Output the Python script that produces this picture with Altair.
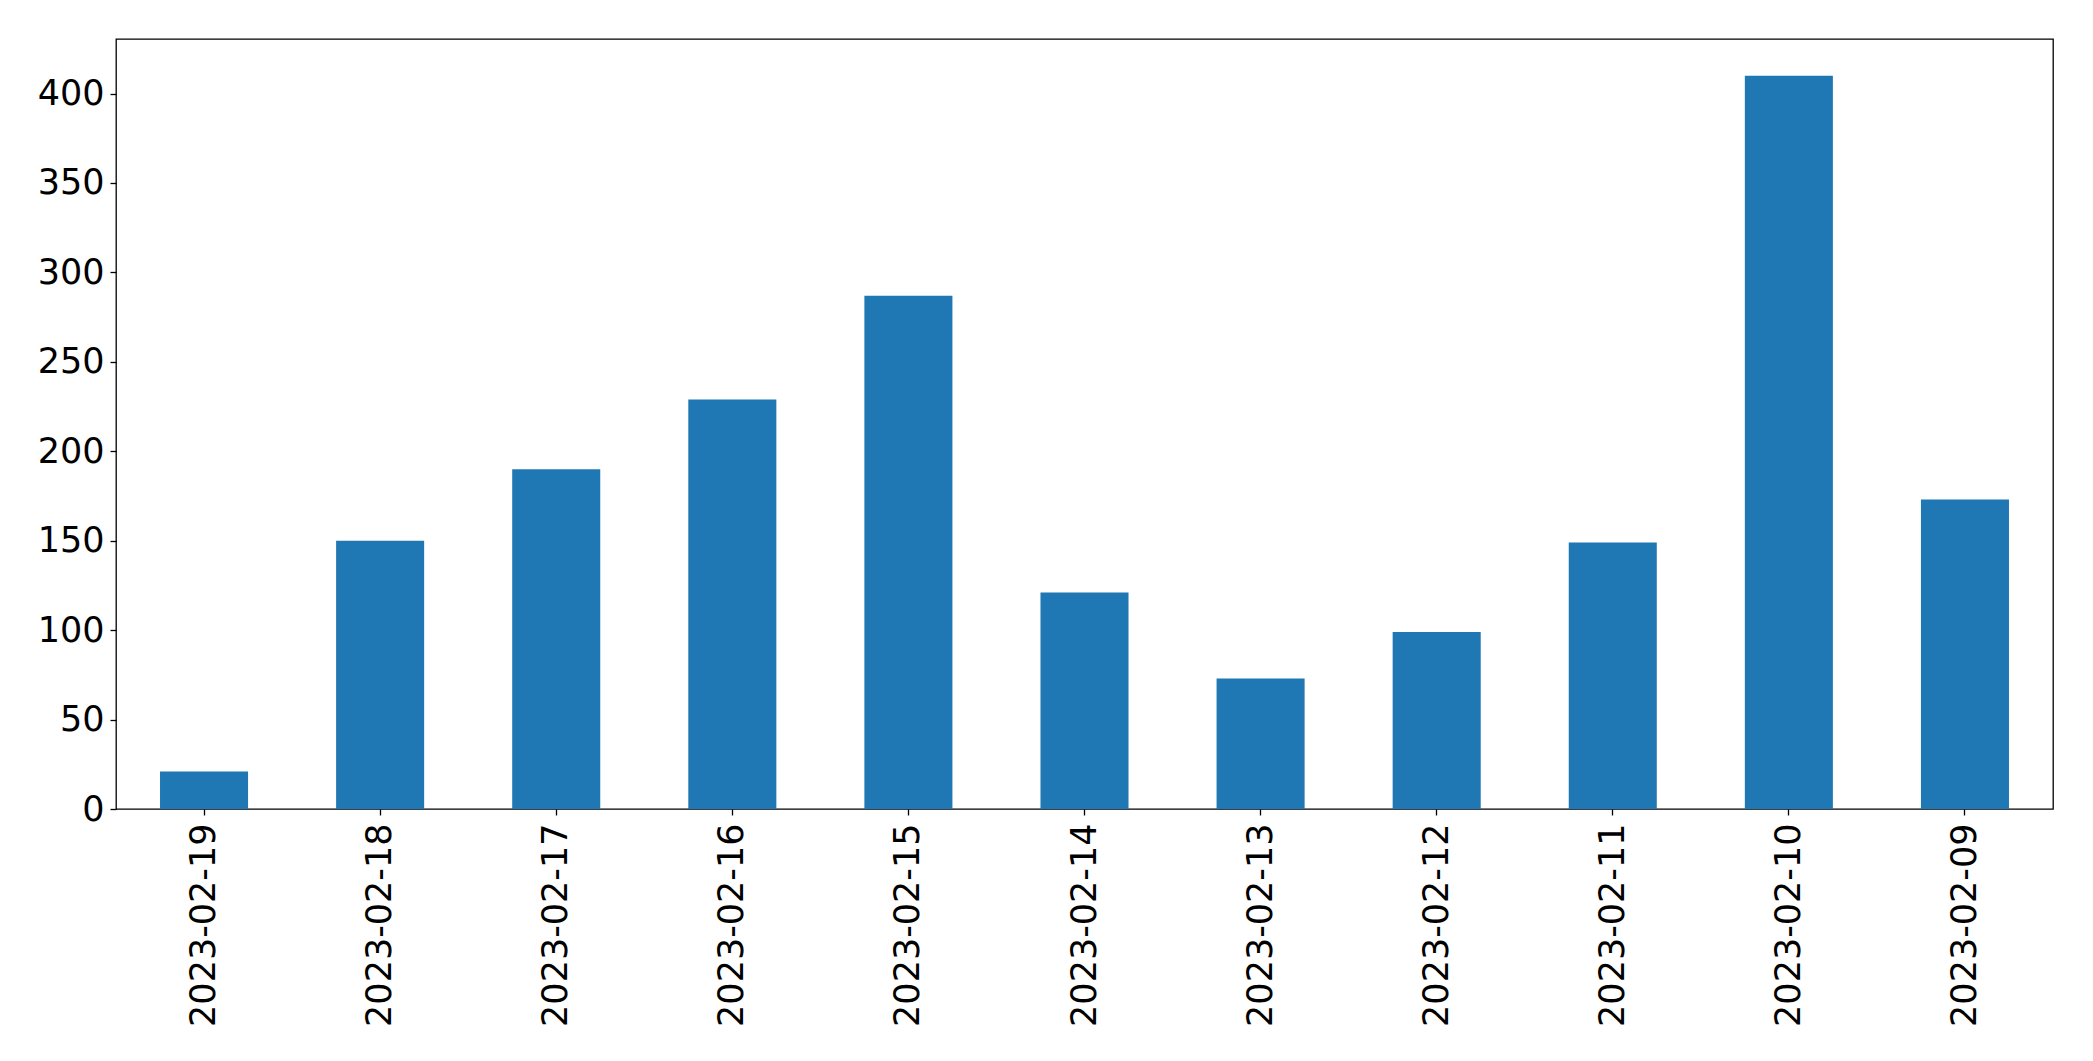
import altair as alt
import pandas as pd

dates = ["2023-02-19", "2023-02-18", "2023-02-17", "2023-02-16", "2023-02-15",
         "2023-02-14", "2023-02-13", "2023-02-12", "2023-02-11", "2023-02-10",
         "2023-02-09"]
counts = [21, 150, 190, 229, 287, 121, 73, 99, 149, 410, 173]
y_ticks = [0, 50, 100, 150, 200, 250, 300, 350, 400]

df = pd.DataFrame({"date": dates, "count": counts})

chart = alt.Chart(df).mark_bar(color="#1f77b4").encode(
    x=alt.X("date:N", sort=dates, title=None,
            scale=alt.Scale(paddingInner=0.5, paddingOuter=0.25),
            axis=alt.Axis(labelAngle=-90, labelFontSize=35, labelFont="DejaVu Sans",
                          labelColor="black", tickColor="black", tickSize=6,
                          tickWidth=1.3, labelPadding=8, labelLimit=0,
                          domain=False, grid=False)),
    y=alt.Y("count:Q", title=None,
            scale=alt.Scale(domain=[0, 430.5], nice=False, zero=True),
            axis=alt.Axis(values=y_ticks, labelFontSize=35, labelFont="DejaVu Sans",
                          labelColor="black", tickColor="black", tickSize=6,
                          tickWidth=1.3, labelPadding=6, labelLimit=0,
                          domain=False, grid=False)),
).properties(
    width=1937,
    height=770,
    autosize=alt.AutoSizeParams(type="none"),
    padding={"left": 108, "top": 31, "right": 32, "bottom": 244},
    background="white",
).configure_view(
    stroke="black", strokeWidth=1.3
)

chart.save("out.html", embed_options={"renderer": "svg", "actions": False})
